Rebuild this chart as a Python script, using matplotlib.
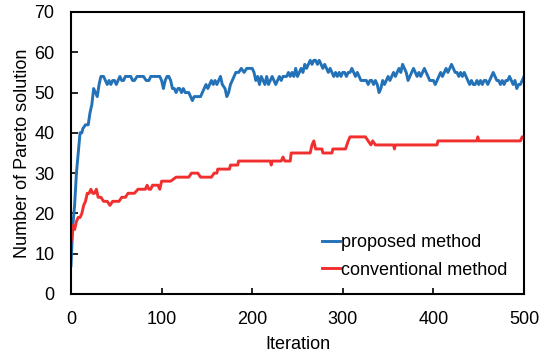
import matplotlib
matplotlib.use("Agg")
import matplotlib.pyplot as plt

plt.rcParams['font.family'] = ['Liberation Sans', 'DejaVu Sans']

# number of Pareto solutions per iteration (proposed method)
prop_iter = [0, 2, 4, 6, 8, 10, 12, 13, 16, 19, 21, 23, 25, 27, 29, 31, 33, 36, 38, 40,
             42, 44, 46, 48, 50, 52, 54, 56, 58, 60, 63, 66, 68, 70, 73, 76, 80, 83, 86, 88,
             92, 95, 98, 100, 102, 104, 106, 108, 110, 112, 114, 116, 118, 120, 122, 124, 126, 128, 130, 132,
             134, 136, 138, 140, 143, 145, 147, 149, 151, 153, 155, 157, 159, 161, 163, 165, 167, 170, 172, 174,
             176, 178, 180, 182, 185, 188, 191, 194, 197, 200, 202, 204, 206, 208, 210, 212, 214, 216, 218, 220,
             222, 224, 226, 228, 230, 232, 234, 238, 240, 242, 244, 246, 248, 250, 252, 254, 256, 258, 260, 262,
             264, 266, 268, 270, 272, 274, 276, 278, 280, 282, 284, 286, 288, 290, 292, 294, 296, 298, 300, 302,
             304, 306, 308, 310, 312, 314, 316, 318, 320, 322, 324, 326, 328, 330, 332, 334, 336, 338, 340, 342,
             344, 346, 348, 350, 352, 354, 356, 358, 360, 362, 364, 366, 368, 370, 372, 374, 376, 378, 380, 382,
             384, 386, 388, 390, 392, 394, 396, 398, 400, 402, 404, 406, 408, 410, 412, 414, 416, 418, 420, 422,
             424, 426, 428, 430, 432, 434, 436, 438, 440, 442, 444, 446, 448, 450, 452, 454, 456, 458, 460, 462,
             464, 466, 468, 470, 472, 474, 476, 478, 480, 482, 484, 486, 488, 490, 492, 494, 496, 498, 500]
prop_vals = [7, 17, 22, 30, 35, 40, 40, 41, 42, 42, 45, 47, 51, 50, 49, 52, 54, 54, 53, 52,
             53, 52, 53, 53, 52, 53, 54, 53, 53, 54, 54, 54, 53, 53, 54, 54, 54, 53, 53, 54,
             54, 54, 54, 53, 51, 53, 54, 54, 53, 51, 51, 50, 51, 51, 50, 51, 50, 50, 50, 49,
             48, 49, 49, 49, 49, 50, 51, 52, 51, 52, 53, 52, 53, 52, 53, 54, 52, 51, 49, 50,
             52, 53, 54, 55, 55, 56, 55, 56, 56, 56, 55, 53, 54, 52, 54, 53, 52, 54, 52, 53,
             54, 53, 52, 53, 54, 53, 54, 54, 55, 54, 55, 54, 56, 54, 55, 56, 55, 57, 56, 57,
             58, 57, 58, 58, 57, 58, 57, 56, 57, 56, 55, 56, 55, 54, 55, 54, 55, 54, 55, 55,
             54, 55, 55, 56, 55, 54, 55, 54, 53, 53, 53, 53, 52, 53, 53, 52, 53, 52, 50, 51,
             53, 52, 53, 54, 53, 54, 55, 54, 55, 56, 55, 57, 56, 55, 53, 54, 55, 56, 55, 54,
             55, 54, 55, 56, 55, 54, 53, 53, 53, 52, 53, 54, 55, 54, 55, 56, 55, 56, 57, 56,
             55, 55, 54, 55, 54, 55, 54, 53, 52, 53, 52, 52, 53, 52, 53, 52, 53, 53, 52, 53,
             54, 55, 54, 53, 53, 52, 53, 52, 53, 53, 54, 53, 52, 53, 51, 52, 52, 53, 54]

# number of Pareto solutions per iteration (conventional method)
conv_iter = [0, 2, 4, 6, 8, 10, 12, 14, 16, 18, 20, 22, 24, 26, 28, 30, 33, 36, 40, 43,
             46, 50, 53, 56, 60, 63, 66, 70, 74, 78, 82, 84, 86, 88, 90, 92, 96, 98, 100, 104,
             110, 116, 120, 130, 133, 140, 143, 155, 158, 161, 162, 175, 176, 184, 185, 220, 221, 222, 232, 234,
             236, 242, 243, 264, 266, 268, 270, 277, 278, 288, 289, 303, 306, 308, 325, 328, 331, 333, 336, 356,
             357, 358, 404, 405, 448, 449, 450, 496, 498, 500]
conv_vals = [13, 17, 16, 18, 19, 19, 20, 22, 23, 25, 25, 26, 25, 25, 26, 24, 24, 23, 23, 22,
             23, 23, 23, 24, 24, 25, 25, 25, 26, 26, 26, 27, 26, 26, 27, 27, 27, 26, 28, 28,
             28, 29, 29, 29, 30, 30, 29, 29, 30, 30, 31, 31, 32, 32, 33, 33, 32, 33, 33, 34,
             33, 33, 35, 35, 37, 38, 36, 36, 35, 35, 36, 36, 38, 39, 39, 38, 37, 38, 37, 37,
             36, 37, 37, 38, 38, 39, 38, 38, 39, 39]

fig = plt.figure(figsize=(5.52, 3.58), dpi=100)
ax = fig.add_axes([0.1286, 0.1788, 0.8207, 0.7877])

ax.plot(prop_iter, prop_vals, color='#2371b7', lw=2.1, label='proposed method')
ax.plot(conv_iter, conv_vals, color='#f22f2f', lw=2.1, label='conventional method')

ax.set_xlim(0, 500)
ax.set_ylim(0, 70)
ax.set_xticks(range(0, 501, 100))
ax.set_yticks(range(0, 71, 10))
ax.tick_params(axis='x', direction='in', length=4, width=1.2, pad=12, labelsize=13)
ax.tick_params(axis='y', direction='in', length=5, width=1.2, pad=12, labelsize=13)
for s in ax.spines.values():
    s.set_linewidth(1.5)

ax.set_xlabel('Iteration', fontsize=13, labelpad=6)
ax.set_ylabel('Number of Pareto solution', fontsize=13, labelpad=2)

ax.legend(loc='lower left', bbox_to_anchor=(0.553, 0.054), frameon=False,
          fontsize=13, handlelength=1.0, handletextpad=0.1, labelspacing=0.57,
          borderaxespad=0, borderpad=0)

fig.savefig('out.png', dpi=100)
